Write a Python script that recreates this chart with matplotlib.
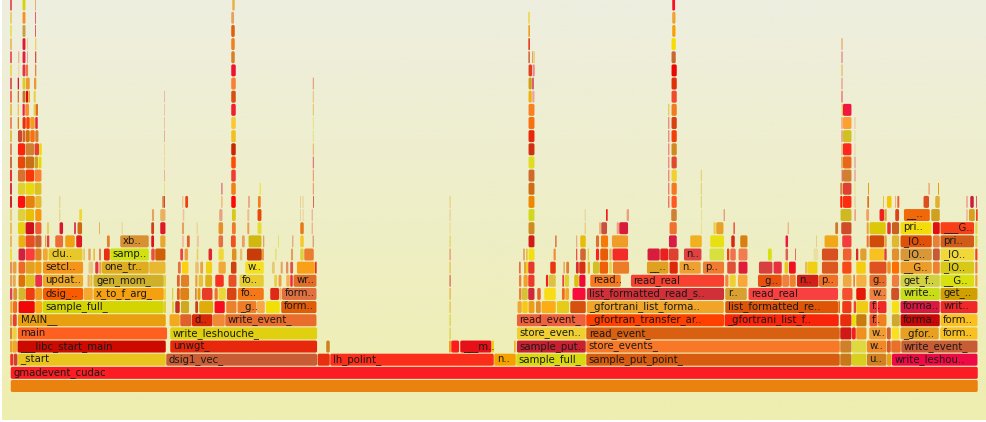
import numpy as np
import matplotlib
matplotlib.use("Agg")
import matplotlib.pyplot as plt
from matplotlib.patches import FancyBboxPatch
from matplotlib.colors import LinearSegmentedColormap

# Flame graph: frames per stack level as (start, end[, name]); colours per level alongside.
L0 = [(10.5, 978)]
C0 = "#ea8210".split()
L1 = [(10.5, 978, "gmadevent_cudac")]
C1 = "#fc1c24".split()
L2 = [(10, 13.3), (13.3, 17.7), (17.7, 166, "_start"), (166, 317.3, "dsig1_vec_"), (317.3, 330), (330, 494, "lh_polint_"), (494, 516, "n.."), (516, 586, "sample_full_"), (586, 840, "sample_put_point_"), (840, 851.7), (851.7, 866.7), (866.7, 886.7, "u.."), (886.7, 891.7), (891.7, 977.7, "write_leshou..")]
C2 = "#f03020 #d04030 #e8c41c #c85c34 #e83010 #fa2e1a #f4a000 #d8d810 #d85c10 #c87818 #d8d020 #d08020 #e8a010 #ee0a44".split()
L3 = [(10, 12), (12, 17.3), (17.3, 166, "___libc_start_main"), (170, 317.3, "unwgt_"), (326, 330), (449, 451), (451, 459.3), (460, 491.7, "___m.."), (491.7, 494), (514, 515.7), (516.7, 586, "sample_put.."), (586, 840, "store_events_"), (840, 851.7), (851.7, 866.7), (866.7, 886.7, "w.."), (886.7, 891), (891, 901), (901, 977.7, "write_event_")]
C3 = "#e8a030 #f0a828 #cc0a00 #e8280c #d08020 #f0a020 #fc1c1c #e81018 #f0d010 #f0b030 #c82030 #f87828 #d08028 #e0d840 #f08828 #d85828 #e87028 #c85c34".split()
L4 = [(10, 12), (12, 17), (17.7, 167.3, "main"), (170, 317.3, "write_leshouche_"), (449.5, 450.7), (516.7, 586, "store_even.."), (586, 840, "read_event_"), (840, 851.7), (851.7, 856), (856, 866.7), (869, 886.7, "w.."), (886.7, 891), (891.7, 899.3), (900.3, 939, "_gfor.."), (940, 977.7, "form..")]
C4 = "#e08040 #f0d040 #ff6020 #e0d010 #e0d040 #f0d030 #d86010 #d01818 #f02020 #f09020 #f09c30 #d86028 #fce020 #e8a020 #f8c020".split()
L5 = [(10, 12), (12.5, 17), (17.7, 166, "MAIN__"), (169.3, 180), (180, 191.7), (191.7, 212.7, "d.."), (212.7, 225), (225, 316.7, "write_event_"), (449.5, 450.7), (516.7, 586, "read_event_"), (586, 724.3, "_gfortran_transfer_ar.."), (724.3, 839, "_gfortrani_list_f.."), (840, 851.7), (851.7, 856), (856, 866.7), (869.3, 877.7, "f.."), (877.7, 886.7), (891.7, 900), (900.3, 940, "forma.."), (940.3, 977.7, "form..")]
C5 = "#e0a040 #e84030 #e8a010 #f4a820 #e0602c #d82808 #f08838 #e86c2c #e0d040 #f0603c #ff4000 #f8240c #e82c10 #e8e000 #c87c10 #f05028 #f08020 #d0a830 #c80808 #f8c020".split()
L6 = [(10, 12.7), (12.7, 17.3), (18.3, 35), (35, 42.3), (42.3, 164, "sample_full_"), (164, 166), (171.7, 174.3), (175, 180), (180.7, 189.3), (195, 198.3), (199, 213.3), (214.3, 225), (226, 236.7), (237.3, 256.7, "_g.."), (256.7, 265), (265.7, 280), (281, 316.7, "form.."), (449.5, 450.7), (517.3, 522), (522, 528), (528.3, 534.7), (535.7, 541), (541.3, 556), (556.7, 569.3), (570, 586), (586.7, 724, "_gfortrani_list_forma.."), (725, 838.3, "list_formatted_re.."), (838.3, 840), (842, 851.7), (853.7, 856), (856, 868.3), (869.3, 877.7, "f.."), (877.7, 886.7), (891.7, 899.3), (900.3, 940, "forma.."), (940.3, 977.7, "writ..")]
C6 = "#f0a030 #f07020 #f00808 #f8a810 #d4d400 #e8c840 #e0d040 #c83020 #d0a820 #c84020 #e0ac08 #f80c20 #ec802c #f07c28 #f8a848 #f0e008 #e05c08 #e8c040 #f0a830 #f8c818 #f09c14 #e08c30 #fcac14 #e4cc18 #d85010 #f0a428 #e05408 #e07020 #f03818 #f04040 #f0cc14 #f03838 #f02828 #f8e010 #d81840 #f02828".split()
L7 = [(10, 12.3), (13, 17.3), (18.3, 25.3), (25.3, 35), (35, 42.3), (42.7, 83.3, "dsig_.."), (83.3, 93), (93.3, 164, "x_to_f_arg_"), (164, 166), (172, 173.3), (176.7, 180), (180, 189.3), (195, 196.7), (197.3, 200.7), (201.7, 212.7), (214.3, 218), (218.3, 226), (226.7, 236.7), (237.7, 264, "fo.."), (270, 279.3), (279.3, 281.7), (281.7, 316.7, "form.."), (449.5, 450.7), (519, 521.3), (521.3, 528), (528, 534.7), (537, 541), (544, 556), (561.7, 565), (565, 569.3), (572.3, 585.7), (586.7, 724.3, "list_formatted_read_s.."), (725, 747, "r.."), (748.3, 838.3, "read_real"), (842, 852.7), (856, 866), (869.3, 886.7, "w.."), (891, 899.3), (900.3, 940, "write.."), (940.3, 977.7, "get_..")]
C7 = "#e04060 #e09030 #d4b828 #f03c10 #f09820 #f85c00 #f4a830 #f4a010 #e8d840 #e0d040 #e06020 #e08018 #e08040 #e0a010 #e83c28 #f07030 #e8d838 #d84414 #f47818 #e02818 #f0b060 #e07040 #e8b040 #e88040 #d8c038 #d02838 #e86030 #f8dc18 #f06820 #f0a828 #f80c3c #d03038 #d8a030 #f84040 #f45030 #e81808 #f08040 #d05028 #c8dc18 #d0a000".split()
L8 = [(10, 12.3), (12.7, 16), (18.3, 25.3), (25.3, 35), (35, 42.3), (42.7, 83.3, "updat.."), (87.3, 90), (90, 92.7), (93.3, 164, "gen_mom_"), (164, 166), (176.7, 180), (180.7, 189.3), (195, 197.7), (198.3, 203.3), (205, 212.3), (215, 224), (228.3, 236.7), (239.3, 264, "fo.."), (274, 277.3), (278.3, 281.7), (286, 290), (290, 293), (293.3, 316.7, "wr.."), (449.5, 450.7), (519, 521.3), (523.3, 528), (528, 534.7), (545.7, 548.3), (548.3, 556), (562.3, 564), (564.3, 569.3), (574, 579), (579, 585.7), (590, 621, "read.."), (630.7, 724.3, "read_real"), (725, 728.7), (729.3, 736), (737.7, 747.7), (757.7, 782, "_g.."), (782, 789.3), (789.3, 796), (796.7, 818.7, "n.."), (818.7, 838.3, "p.."), (842.7, 851.7), (853.3, 855), (856, 866.7), (869.3, 886.7, "g.."), (891.7, 899.3), (900.3, 940, "get_f.."), (940.3, 974.3, "__G.."), (975, 977.7)]
C8 = "#e0a060 #e8a850 #e07008 #e0c020 #e83048 #f0a828 #e8b060 #e8c040 #d0b028 #e8d040 #e06030 #e08028 #e8a040 #e8c040 #e0b018 #f83020 #e85028 #e8cc30 #e8d040 #f0a040 #f8b050 #f02840 #e06c28 #e06040 #e88040 #f0a030 #f03828 #f02020 #e0c040 #f04040 #e0d030 #d8c010 #f00838 #f87820 #f84030 #f88040 #f0d030 #f8a838 #e85010 #f08040 #f08030 #d02018 #f07028 #f0a840 #f08040 #f4b040 #e86c28 #f07c40 #d0d040 #d8e010 #f0a030".split()
L9 = [(10, 12.3), (12.7, 16.7), (18.3, 25.3), (25.3, 35), (35, 41.7), (42.7, 83.3, "setcl.."), (88.3, 93.3), (95, 98.7), (99, 101.7), (101.7, 149, "one_tr.."), (149, 165.7), (177.7, 181), (181.7, 188.7), (195, 199), (200, 203.3), (205.7, 212.3), (218.3, 226), (230.7, 236.7), (245, 264, "w.."), (271.7, 275), (280.7, 282.7), (286, 288.3), (290, 293.3), (296.7, 315), (315, 316.7), (449.5, 450.7), (519, 520.7), (524, 526), (526, 528), (528, 534.7), (550, 556), (563.3, 565), (566, 569.3), (575.7, 579), (579, 585.7), (587.7, 590), (592.7, 599.3), (599.3, 608.3), (609, 612), (612.7, 629.3), (646.7, 668.7, "__.."), (669.3, 678), (679.3, 701, "n.."), (702.7, 724.3, "p.."), (727, 736), (738.3, 747.7), (758.7, 772.7), (773.3, 782), (784.3, 788.3), (788.7, 796), (805.3, 806.7), (807, 817.7), (821.7, 838.3), (842, 851.7), (856, 866), (869.3, 886.7), (887, 891), (891.7, 899.3), (900.3, 932, "__G.."), (932.7, 940), (940.3, 974.3, "_IO.."), (975, 977.7)]
C9 = "#e09050 #e8a040 #f06828 #e4a020 #f0a010 #f49418 #e8c880 #e83048 #e8a040 #e0ac20 #e8b830 #e87040 #fcd010 #e8c070 #e8a040 #f0d010 #f0a838 #d04010 #f4e020 #e8c870 #e8a060 #e09060 #e05040 #f8a018 #e83030 #e8c040 #e07040 #e8a040 #f0d020 #e83828 #e83810 #e8b060 #e08030 #d83030 #d83010 #e8b020 #d0c020 #f06008 #e8d040 #ec7c28 #e0a020 #e02808 #f0a030 #f07a30 #e05038 #e01c38 #d84040 #e83040 #e8c818 #f01020 #e8a050 #f0d010 #dc5820 #f84818 #f4cc10 #e05020 #f09020 #ff6c00 #ec9c28 #f08030 #d8c818 #f08040".split()
L10 = [(10, 12), (18.3, 25.3), (25.3, 35), (35, 41.7), (42.7, 48), (48.3, 82.7, "clu.."), (83.3, 85), (88.3, 90.7), (93.3, 95), (99, 101), (103.7, 110), (110, 149, "samp.."), (151, 155), (155, 165.7), (180, 183.3), (184.3, 188.3), (196.7, 198.3), (208.3, 212.3), (218.3, 224), (231.7, 236.7), (240, 242.3), (246.7, 262), (262, 264), (275, 276.7), (290.7, 293.3), (300, 304), (304, 314), (449.5, 450.7), (523.3, 524.7), (526, 527.7), (528.3, 534.7), (553.3, 556), (576, 577.3), (580, 586), (587.7, 589), (595.7, 599.3), (600, 608.3), (609.3, 611.7), (612.3, 628.3), (647.3, 660), (660, 668.7), (668.7, 678.7), (683.7, 701.7, "n.."), (709.3, 724.3), (727, 729.3), (730, 736), (738.3, 747.7), (767.7, 772), (785.3, 788.3), (795.3, 796), (813.3, 818.3), (821.7, 838.3), (842.7, 851.7), (856, 858.3), (860, 866.7), (869.3, 884.3), (884.3, 886.7), (891.7, 899.3), (900.3, 932, "_IO.."), (932.7, 940), (940.3, 974.3, "_IO.."), (975, 977.7)]
C10 = "#e8e040 #d02040 #fc3c3c #e08020 #f0a830 #e8c828 #e8c860 #e8a060 #e8c040 #e08050 #e83010 #d0e010 #e85040 #d06008 #e84840 #e8a040 #e8d060 #e02828 #f0d838 #e09020 #e8c070 #c83c08 #e8a040 #e8e080 #e0a060 #e0d040 #ec7c30 #e89060 #e09040 #e8c040 #f0e010 #f09030 #f05050 #d06830 #e8d030 #ff2020 #e85c08 #e8b060 #f42c28 #d81c3c #e82020 #e04030 #e04040 #d8e040 #f04010 #f07050 #f07c50 #d8e010 #e06050 #e83040 #e8e0a0 #d85020 #f06030 #d82c20 #e0a030 #f8c020 #e04030 #e09030 #d89838 #c85838 #f0d838 #f84018 #e8d040".split()
L11 = [(10, 12), (18.3, 25.3), (25.3, 35), (35, 41.7), (45, 46.3), (47, 49.3), (55, 63.3), (65, 75), (76, 82.3), (106.7, 110), (120, 149, "xb.."), (151, 154.3), (160, 165.7), (181.7, 184.3), (186.7, 190), (196.7, 199), (218.3, 223.3), (230.7, 236), (241.7, 245), (248.3, 261.7), (263, 264.3), (278, 279), (292.3, 293.3), (300, 304), (312.7, 313.7), (449.5, 450.7), (528.3, 534.7), (555, 556.7), (576, 577.3), (580, 586), (595.7, 599.3), (600.7, 608.3), (611.7, 628.3), (668.7, 677), (690, 702), (710, 724.3), (731, 735), (740, 747.7), (785.3, 788.3), (816, 817), (824.3, 838.3), (842, 851.7), (866.7, 868.7), (869.3, 884.3), (884.3, 886.7), (891.7, 899.3), (900.3, 932, "_IO.."), (932.7, 940), (940.3, 974.3, "pri.."), (975, 977.7)]
C11 = "#e8b868 #ecb010 #e84c20 #c86030 #e8a040 #e04040 #ec6c38 #f0a010 #e01820 #e08030 #d89030 #e01020 #e8a830 #f0c0a0 #e06030 #f0c8a0 #e87040 #f05020 #e8a060 #d0b810 #e8a060 #e8e060 #e89060 #f8c828 #e08060 #e8d060 #d01c14 #e08050 #e8b080 #e8bc08 #e07030 #f87808 #f09c28 #d81c44 #f0b020 #e8e010 #d82810 #d88010 #f01840 #e8d080 #f0a818 #f43c3c #f07030 #d04c08 #e8a040 #e0b830 #e05008 #e88038 #d05c18 #e0d040".split()
L12 = [(10, 12), (17.7, 25.3), (25.3, 34.3), (35, 41.7), (46.7, 49.3), (59.3, 63.3), (74, 76), (77.3, 82.3), (99, 100), (121.7, 122.7), (151, 154.3), (160, 165.7), (181.7, 184.3), (196.7, 197.7), (218.3, 223.3), (231.7, 236), (247.3, 249.3), (257.3, 261.7), (300, 304), (311.7, 312.7), (449.5, 450.7), (528.3, 534.7), (584.7, 585.7), (599.3, 600.7), (601, 607.3), (616.7, 619), (619, 628.3), (669.3, 677), (701, 702), (713.3, 716), (716, 723.7), (733.3, 735), (787.7, 788.7), (835, 838.3), (841, 851.7), (866.7, 868.7), (869.3, 886), (887, 891), (891.7, 899.3), (900.3, 931.7, "pri.."), (932.7, 940), (940.3, 974.3, "___G.."), (975, 977.7)]
C12 = "#e8c060 #e8d010 #d0101c #f05c30 #e8d060 #d81830 #e04060 #d06810 #e8b060 #e8d090 #d04020 #e01828 #e8a060 #e8d080 #e89028 #f07828 #e8a050 #e8dc30 #e87818 #e8a070 #e8e090 #cf8a20 #e8c070 #f0a060 #c85040 #f0a080 #d81c3c #f07030 #e8e090 #e8d040 #e8a028 #f06050 #e8a070 #d07830 #d04c28 #e8a040 #dcc808 #e83030 #c86020 #f4dc08 #e01010 #f84018 #e0d840".split()
L13 = [(10, 12), (17.7, 25.3), (25.3, 34.3), (35, 41.7), (59.3, 60.3), (79, 82.3), (151.7, 154.3), (160, 165.7), (182.7, 184.3), (219, 222.7), (231.7, 236), (247.3, 249.3), (257.3, 261.7), (300, 301), (302.7, 303.7), (311.7, 312.7), (449.5, 450.7), (528.3, 534.7), (584.7, 585.7), (606, 607.7), (626.7, 629), (671, 677), (701, 702), (723.7, 724.7), (840.3, 851.7), (854.3, 856), (866, 869.3), (879.3, 884.3), (884.3, 886.7), (895, 899.3), (903.7, 930, "__.."), (931, 940), (966, 968), (968.7, 975), (976, 977.7)]
C13 = "#e8c870 #e0d040 #e8c008 #f89810 #e8d080 #f0d830 #e8a060 #e8b060 #f0c0a0 #e8a080 #d8c818 #e8c090 #e84808 #e8d090 #e8d0a0 #e8a090 #e8d090 #d0d81c #e8d090 #f01c1c #e8a080 #d08030 #e8e090 #e08060 #d0b820 #f0a090 #f0a060 #f02020 #e0a040 #e04018 #f06808 #d0a020 #f0c0a0 #d8a020 #f04020".split()
L14 = [(10, 12), (17.7, 25.3), (25.3, 35), (35, 41.7), (59.3, 60.3), (162.3, 163.7), (163.7, 165), (182.3, 183.3), (185, 188.3), (221, 222.7), (231, 236), (248.3, 249.7), (257.7, 261), (300, 301), (302.5, 303.5), (313, 314), (449.5, 450.7), (528.3, 534.7), (668.3, 669.3), (671.3, 677), (700.8, 701.8), (840, 842.7), (842.7, 851.7), (854.5, 855.5), (867.3, 869), (883, 884), (886.7, 891.7), (895, 896), (897.3, 899.3), (923.3, 929.3), (935, 940), (966, 968), (970, 974), (976, 977)]
C14 = "#d02030 #ff1010 #e88010 #e8b830 #e0d080 #d08030 #e04030 #f0b080 #f04010 #f0c080 #ff0808 #e89070 #f08020 #e8d090 #e8d090 #e06060 #e8d080 #ee8800 #f04040 #ff5820 #e0d060 #ff2000 #ff2c10 #e8c090 #e07020 #e8c050 #f4c800 #f0b080 #f06030 #dc5020 #e0b030 #f0b0a0 #c82040 #e06060".split()
L15 = [(10, 12), (17.7, 25.3), (25.3, 34.3), (34.3, 41.7), (164, 165), (221, 222.7), (231, 236), (259.7, 260.7), (312.8, 313.8), (528.3, 534.7), (668.3, 669.3), (671.3, 677), (700.8, 701.8), (840, 842.7), (842.7, 851.7), (854.5, 855.5), (868, 869), (928.3, 930), (938, 939)]
C15 = "#d83040 #e0d030 #e8d810 #e0c020 #e8e080 #e88890 #f08010 #f0e020 #e89060 #d06c14 #f05050 #f47820 #e0d060 #d88040 #e04030 #e8e080 #e0a020 #f0b080 #e8a000".split()
L16 = [(10, 12), (17.7, 25.3), (25.3, 34.3), (34.3, 41.7), (164, 165), (231, 236), (312.8, 313.8), (528.3, 534.7), (668.3, 669.3), (671.3, 677), (700.8, 701.8), (841.7, 842.7), (842.7, 851.7), (854.5, 855.5)]
C16 = "#f03030 #d87030 #f83808 #f88030 #f0b0a0 #f03c30 #e89060 #cf6a28 #f06060 #f0d030 #e0d060 #e04040 #d08030 #e88080".split()
L17 = [(10, 12), (17.7, 25.3), (25.3, 34.3), (34.3, 38.3), (38.3, 41.7), (164, 165), (231, 236), (312.8, 313.8), (528.3, 534.7), (668.3, 669.3), (671.3, 677), (841.3, 842.7), (842.7, 851.7), (854.5, 855.5)]
C17 = "#d07040 #e84808 #c87018 #d0a020 #e8d800 #ecd898 #ff4c00 #e06060 #e0dc20 #f06060 #e04830 #d8a040 #e86818 #e08888".split()
L18 = [(10, 12), (17.7, 25.3), (25.3, 34.3), (34.3, 39.3), (39.3, 41.7), (164, 165), (231, 236), (312.8, 313.8), (528.3, 534.7), (668.3, 669.3), (671.3, 677), (841.3, 842.7), (842.7, 851.7), (854.5, 855.5)]
C18 = "#e08860 #ff2010 #d08030 #e84030 #f0d800 #ecd898 #c82800 #e8b060 #d03010 #f06060 #d08820 #e8b870 #ff2820 #ecd0a0".split()
L19 = [(10, 12), (17.7, 22.3), (22.3, 25.3), (25.3, 30), (30, 35), (35, 38.7), (164, 165), (231, 236), (312.8, 313.8), (528.3, 534.7), (668.3, 669.3), (671.3, 677), (841.3, 842.7), (842.7, 851.7), (854.5, 855.5)]
C19 = "#e0c050 #c84830 #e06020 #d07010 #f87010 #d08030 #ecb090 #f0c020 #e8e080 #e82808 #f06060 #f04008 #e89090 #d0c020 #e8e0a0".split()
L20 = [(10, 12), (17.7, 19), (22.3, 26), (26, 30), (30, 35), (35, 38), (164, 165), (231, 236), (312.8, 313.8), (528.3, 534.7), (668.3, 669.3), (671.3, 677), (841.3, 842.7), (842.7, 851.7), (854.5, 855.5)]
C20 = "#f08860 #e88010 #e83010 #ff4000 #f0a020 #e82040 #f0c0a0 #fcc830 #e8e080 #f87010 #f06060 #d84010 #f0a080 #fca030 #f0c0a0".split()
L21 = [(10, 12), (17.7, 19), (22.3, 25), (25, 29.3), (33.7, 35.7), (35.7, 38), (164, 165), (231, 236), (312.8, 313.8), (528.3, 534.7), (668.3, 669.3), (671.3, 677), (841.7, 842.7), (842.7, 851.7)]
C21 = "#e8c050 #f0c060 #f02040 #f89030 #e8d040 #e07020 #f0c0b0 #f02030 #e8c060 #f88020 #e8c020 #f07c20 #e8c020 #f01840".split()
L22 = [(10, 12), (17.7, 19), (22.3, 25.7), (25.7, 28.3), (28.3, 30), (33.7, 35.7), (164, 165), (231, 236), (312.8, 313.8), (528.3, 532), (532, 534.7), (671.3, 677), (841.3, 842.7)]
C22 = "#f07050 #d87030 #d07020 #d01010 #f8a020 #e8d040 #ecb8a8 #d85010 #e8c070 #f0b010 #f0a0a0 #f04828 #f07070".split()
L23 = [(10, 12), (17.7, 19), (22.3, 25.7), (25.7, 30), (34, 36.3), (231, 236), (312.8, 313.8), (528.3, 532), (532, 534), (671.3, 677), (841.3, 842.7)]
C23 = "#e06060 #e01030 #d8d020 #f09830 #f09830 #f88030 #e09070 #d0a010 #d86080 #e03008 #e8a090".split()
L24 = [(10, 12), (18.3, 19.3), (22.3, 25.7), (25.7, 28.3), (35, 36.3), (231, 236), (528.3, 532.3), (532.3, 535), (671.3, 677), (841.3, 842.7)]
C24 = "#e8d860 #f0d090 #e83040 #f87040 #e88040 #f01030 #e04020 #f08888 #e80800 #e8c070".split()
L25 = [(10, 12), (18.3, 19.3), (22.3, 25.7), (27, 28), (35, 36.3), (231, 235), (528.3, 530), (532, 533), (533.3, 535), (671.3, 676), (841.3, 842.7)]
C25 = "#e86060 #e8a070 #e02040 #f0a090 #e05040 #d88028 #d07040 #e8a060 #e8d080 #c86830 #e09090".split()
L26 = [(10, 12), (22.3, 25.7), (27, 28), (35, 36.3), (231, 235), (528.3, 530), (671.3, 676), (841.3, 842.7)]
C26 = "#e8c070 #e01838 #f0d080 #f0d060 #f08020 #e84020 #f8dc00 #e8b070".split()
L27 = [(10, 12), (22.3, 25.7), (35, 36), (231, 235), (528.3, 530), (672, 675.7)]
C27 = "#e8e060 #c8a040 #e06060 #e06010 #f0a020 #f8a000".split()
L28 = [(10, 12), (22.3, 25.7), (35, 36), (231, 234.3), (528.3, 529.7), (672, 675.7)]
C28 = "#e8d070 #f89028 #e06070 #e8a060 #f0d030 #f0a030".split()
L29 = [(10, 12), (22.3, 25.7), (35, 36), (232.3, 234.7), (672, 675.3)]
C29 = "#e06060 #d8d010 #e8b060 #e8b040 #ff1020".split()

LEVELS = [L0, L1, L2, L3, L4, L5, L6, L7, L8, L9, L10, L11, L12, L13, L14, L15, L16, L17, L18, L19, L20, L21, L22, L23, L24, L25, L26, L27, L28, L29]
COLORS = [C0, C1, C2, C3, C4, C5, C6, C7, C8, C9, C10, C11, C12, C13, C14, C15, C16, C17, C18, C19, C20, C21, C22, C23, C24, C25, C26, C27, C28, C29]

W, H = 986, 422
PITCH = 13.15
BASE = 392.0          # pixel row of the bottom of level 0
fig = plt.figure(figsize=(W / 100, H / 100), dpi=100, facecolor="white")
ax = fig.add_axes([0, 0, 1, 1])
ax.axis("off")

cmap = LinearSegmentedColormap.from_list("bg", ["#eeeee0", "#eeeeb0"])
ymin = (BASE - H) / PITCH
ymax = BASE / PITCH
bg_bottom = (BASE - 420) / PITCH
ax.imshow(np.linspace(0, 1, 256).reshape(-1, 1), cmap=cmap, aspect="auto",
          extent=(2, W, bg_bottom, ymax), origin="upper", zorder=0)
ax.set_xlim(0, W)
ax.set_ylim(ymin, ymax)

bar_h = 12.0 / PITCH
for level, (frames, cols) in enumerate(zip(LEVELS, COLORS)):
    for i, fr in enumerate(frames):
        x0, x1 = fr[0], fr[1]
        col = cols[i % len(cols)]
        width = x1 - x0
        inset = 0.25 if width > 2.5 else 0.0
        rs = min(1.6, max(width - 2 * inset, 0.1) / 2)
        ax.add_patch(FancyBboxPatch((x0 + inset, level), width - 2 * inset, bar_h,
                                    boxstyle=f"round,pad=0,rounding_size={rs}",
                                    mutation_aspect=1 / PITCH, fc=col, ec="none", lw=0,
                                    zorder=2))
        if len(fr) > 2:
            ax.text(x0 + 2.8, level + 3.7 / PITCH, fr[2], fontsize=7.3, color="#1a1a1a",
                    va="baseline", ha="left", family="DejaVu Sans", zorder=3)

fig.savefig("out.png", dpi=100, facecolor="white")
